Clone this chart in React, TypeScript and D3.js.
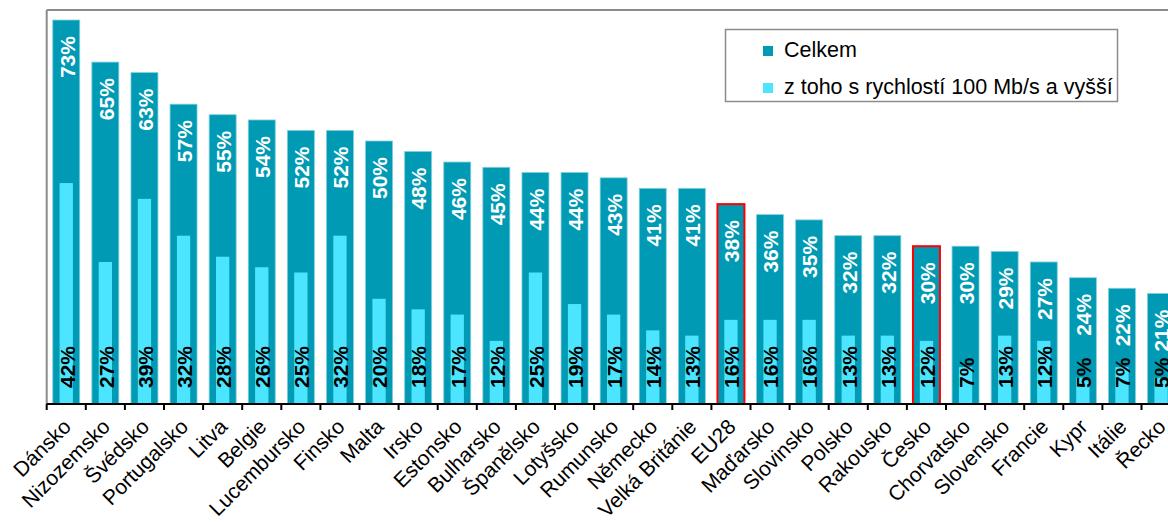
import React from "react";
import * as d3 from "d3";

const categories = [
  "Dánsko", "Nizozemsko", "Švédsko", "Portugalsko", "Litva", "Belgie", "Lucembursko",
  "Finsko", "Malta", "Irsko", "Estonsko", "Bulharsko", "Španělsko", "Lotyšsko",
  "Rumunsko", "Německo", "Velká Británie", "EU28", "Maďarsko", "Slovinsko", "Polsko",
  "Rakousko", "Česko", "Chorvatsko", "Slovensko", "Francie", "Kypr", "Itálie", "Řecko",
];
const totalValues = [73, 65, 63, 57, 55, 54, 52, 52, 50, 48, 46, 45, 44, 44, 43, 41, 41, 38, 36, 35, 32, 32, 30, 30, 29, 27, 24, 22, 21];
const fastValues = [42, 27, 39, 32, 28, 26, 25, 32, 20, 18, 17, 12, 25, 19, 17, 14, 13, 16, 16, 16, 13, 13, 12, 7, 13, 12, 5, 7, 5];
const highlighted = ["EU28", "Česko"];
const legendLabels = ["Celkem", "z toho s rychlostí 100 Mb/s a vyšší"];

const W = 1168;
const H = 522;
const left = 46.7;
const step = 39.1;
const baseY = 404;
const topY = 9.5;
const DARK = "#009ab4";
const LIGHT = "#4ce5ff";

export default function App() {
  const x = d3
    .scaleBand<string>()
    .domain(categories)
    .range([left, left + step * categories.length])
    .paddingInner(0.31)
    .paddingOuter(0.155);
  const y = d3.scaleLinear().domain([0, 75]).range([baseY, topY]);
  const bw = x.bandwidth();
  const lw = step * 0.34;
  const font = "'Liberation Sans', Arial, sans-serif";

  return (
    <svg width={W} height={H} style={{ position: "absolute", left: 0, top: 0, background: "#fff" }}>
      {/* frame */}
      <line x1={left} y1={10} x2={W} y2={10} stroke="#8c8c8c" strokeWidth={2} />
      <line x1={left} y1={10} x2={left} y2={baseY} stroke="#8c8c8c" strokeWidth={2} />
      {categories.map((c, i) => {
        const bx = x(c)!;
        const cx = bx + bw / 2;
        const yt = y(totalValues[i]);
        const yf = y(fastValues[i]);
        const hl = highlighted.includes(c);
        return (
          <g key={c}>
            <rect x={bx} y={yt} width={bw} height={baseY - yt} fill={DARK}
              stroke={hl ? "#ff0000" : "#7fd0dc"} strokeWidth={hl ? 2 : 0.8} />
            <rect x={cx - lw / 2} y={yf} width={lw} height={baseY - yf} fill={LIGHT} />
            <text transform={`translate(${cx + 0.5},${yt + 16}) rotate(-90)`} textAnchor="end" dy="0.37em"
              fill="#fff" fontFamily={font} fontWeight="bold" fontSize={21}>
              {totalValues[i]}%
            </text>
            <text transform={`translate(${cx + 0.5},${baseY - 16}) rotate(-90)`} textAnchor="start" dy="0.37em"
              fill="#000" fontFamily={font} fontWeight="bold" fontSize={21}>
              {fastValues[i]}%
            </text>
            <text transform={`translate(${cx + 6},${baseY + 24}) rotate(-45)`} textAnchor="end"
              fill="#000" fontFamily={font} fontSize={21}>
              {c}
            </text>
          </g>
        );
      })}
      {/* bottom axis */}
      <line x1={left} y1={baseY} x2={W} y2={baseY} stroke="#000" strokeWidth={2} />
      {d3.range(categories.length + 1).map((i) => (
        <line key={i} x1={left + i * step} x2={left + i * step} y1={baseY} y2={baseY + 6} stroke="#000" strokeWidth={2} />
      ))}
      {/* legend */}
      <rect x={725.5} y={29.5} width={392} height={72} fill="#fff" stroke="#8c8c8c" strokeWidth={1.5} />
      {legendLabels.map((l, i) => (
        <g key={l}>
          <rect x={763} y={46 + i * 37} width={10} height={10} fill={i === 0 ? DARK : LIGHT} />
          <text x={784} y={56.5 + i * 37} fontFamily={font} fontSize={21.5} fill="#000">{l}</text>
        </g>
      ))}
    </svg>
  );
}
